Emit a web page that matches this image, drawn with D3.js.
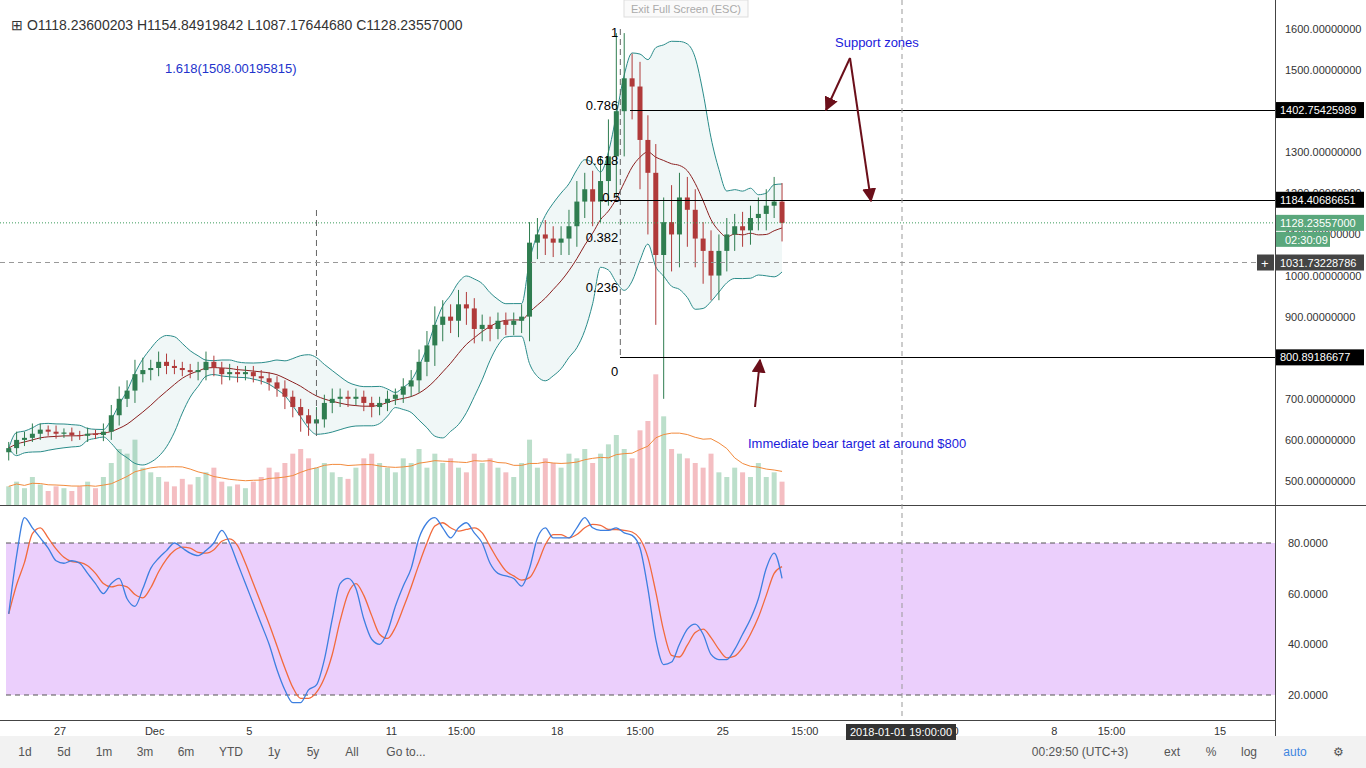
<!DOCTYPE html><html><head><meta charset="utf-8">
<script src="https://cdn.jsdelivr.net/npm/d3@7"></script>
<style>body{margin:0;background:#fff;font-family:Arial,"Liberation Sans",sans-serif}</style></head><body>
<svg id="c" width="1366" height="768"></svg>
<script>
const startDate = "2017-11-24T20:00";
const closes=[580,600,605,615,625,620,615,618,612,610,615,612,620,660,700,720,760,770,775,790,780,775,770,765,770,790,775,760,765,760,765,755,750,740,725,705,680,660,640,650,690,700,705,700,705,690,680,690,700,710,730,745,790,830,880,900,890,930,920,870,880,870,890,880,890,900,1080,1100,1090,1080,1090,1120,1180,1210,1180,1230,1290,1400,1480,1460,1330,1250,1050,1130,1100,1190,1160,1090,1060,1000,1060,1100,1120,1110,1140,1150,1170,1180,1128];
const wickUp=[15,20,15,25,15,10,15,10,12,10,15,10,20,25,30,25,35,30,20,25,20,15,15,15,20,25,15,15,20,15,15,15,15,15,15,20,15,20,15,30,20,25,20,15,20,15,15,15,20,15,20,25,30,35,45,40,30,35,30,25,25,20,20,20,20,30,50,40,35,30,30,40,50,40,45,60,90,190,110,60,60,60,70,60,90,60,50,50,40,50,40,40,30,35,30,40,40,60,45];
const wickDn=[20,15,15,10,15,10,12,10,15,10,15,10,15,20,25,20,30,20,25,20,20,15,15,15,20,25,20,25,15,20,15,15,15,20,20,30,25,40,30,25,20,25,20,20,15,20,25,20,20,15,20,25,30,35,50,40,30,40,40,35,30,30,25,25,25,30,60,40,40,35,30,40,50,40,60,50,60,100,110,80,120,150,170,350,90,80,90,70,80,60,60,50,40,40,35,30,40,30,45];
const volumes=[20,25,18,30,22,15,20,18,15,20,25,18,30,45,60,55,70,40,35,30,25,20,28,22,30,35,40,25,20,22,18,25,30,40,35,45,55,60,50,40,45,35,30,28,40,50,55,45,40,35,50,45,60,40,55,45,50,40,35,55,45,50,40,35,30,45,70,40,50,45,40,55,50,60,45,55,65,75,60,50,80,90,140,95,60,55,50,45,40,55,35,30,40,35,30,45,30,35,25];
const stochK=[52,75,90,86,82,78,73,72,73,72,68,64,60,64,66,58,55,62,70,74,77,80,78,76,75,77,80,85,80,72,64,56,48,40,30,22,17,17,22,24,34,50,64,66,62,50,42,40,45,55,63,70,82,88,90,86,82,86,88,84,80,72,68,67,66,63,70,82,86,82,82,82,86,90,86,85,85,86,84,83,78,62,42,32,33,40,46,48,44,36,34,34,38,44,50,58,70,76,66];
const priceTicks=[500,600,700,900,1000,1100,1200,1300,1500,1600];
const stochTicks=[20,40,60,80];
const xTicks=[["2017-11-27T00:00","27"],["2017-12-01T00:00","Dec"],["2017-12-05T00:00","5"],["2017-12-11T00:00","11"],["2017-12-13T23:00","15:00"],["2017-12-18T00:00","18"],["2017-12-21T12:00","15:00"],["2017-12-25T00:00","25"],["2017-12-28T11:00","15:00"],["2018-01-03T09:00","15:00"],["2018-01-08T00:00","8"],["2018-01-10T10:00","15:00"],["2018-01-15T00:00","15"]];
const fibLevels=[["1",1600],["0.786",1402.75],["0.618",1268],["0.5",1178],["0.382",1081],["0.236",960],["0",800.89]];
const priceLabels=[[1402.75425989,"1402.75425989","#000"],[1184.40686651,"1184.40686651","#000"],[1128.23557,"1128.23557000","#5aa77c"],[1031.73228786,"1031.73228786","#444"],[800.89186677,"800.89186677","#000"]];

const svg=d3.select("#c");
const W=1275;
const x=d3.scaleTime().domain([new Date("2017-11-27T00:00"),new Date("2018-01-15T00:00")]).range([60,1220]);
const y=d3.scaleLinear().domain([500,1600]).range([481,29]);
const ys=d3.scaleLinear().domain([20,80]).range([695,543]);
const t0=new Date(startDate).getTime();
const dt=i=>new Date(t0+i*8*3600e3);
const data=closes.map((c,i)=>{const o=i?closes[i-1]:c-10;return{i,o,c,h:Math.max(o,c)+wickUp[i],l:Math.min(o,c)-wickDn[i],v:volumes[i],d:dt(i)}});
svg.append("rect").attr("x",0).attr("y",0).attr("width",1366).attr("height",768).attr("fill","#fff");
svg.append("rect").attr("x",0).attr("y",736).attr("width",1366).attr("height",32).attr("fill","#f2f2f2");
svg.append("line").attr("x1",0).attr("x2",1366).attr("y1",505.5).attr("y2",505.5).attr("stroke","#444");
svg.append("line").attr("x1",1275.5).attr("x2",1275.5).attr("y1",0).attr("y2",736).attr("stroke","#444");
svg.append("line").attr("x1",0).attr("x2",1275).attr("y1",720.5).attr("y2",720.5).attr("stroke","#444");
svg.append("rect").attr("x",6).attr("y",ys(80)).attr("width",W-6).attr("height",ys(20)-ys(80)).attr("fill","#ebcffc");
[80,20].forEach(v=>svg.append("line").attr("x1",6).attr("x2",W).attr("y1",ys(v)).attr("y2",ys(v)).attr("stroke","#555").attr("stroke-dasharray","5,4"));
const yv=d3.scaleLinear().domain([0,150]).range([505,365]);
const cw=5;
svg.append("g").selectAll("rect").data(data).join("rect").attr("x",d=>x(d.d)-cw/2).attr("width",cw).attr("y",d=>yv(d.v)).attr("height",d=>505-yv(d.v))
 .attr("fill",d=>d.c>=d.o?"rgba(107,185,140,0.45)":"rgba(230,110,120,0.45)");
const vma=data.map((d,i)=>({d:d.d,v:d3.mean(volumes.slice(Math.max(0,i-9),i+1))}));
svg.append("path").datum(vma).attr("fill","none").attr("stroke","#f28a3c").attr("d",d3.line().x(d=>x(d.d)).y(d=>yv(d.v)));
const N=10;
const bb=data.map((d,i)=>{const s=closes.slice(Math.max(0,i-N+1),i+1);const m=d3.mean(s),sd=d3.deviation(s)||0;return{d:d.d,m,u:m+2*sd,lo:m-2*sd}});
svg.append("path").datum(bb).attr("fill","rgba(40,140,140,0.07)").attr("d",d3.area().x(d=>x(d.d)).y0(d=>y(d.lo)).y1(d=>y(d.u)).curve(d3.curveMonotoneX));
["u","lo"].forEach(k=>svg.append("path").datum(bb).attr("fill","none").attr("stroke","#2a8c8a").attr("d",d3.line().x(d=>x(d.d)).y(d=>y(d[k])).curve(d3.curveMonotoneX)));
svg.append("path").datum(bb).attr("fill","none").attr("stroke","#8b2020").attr("d",d3.line().x(d=>x(d.d)).y(d=>y(d.m)).curve(d3.curveMonotoneX));
const cg=svg.append("g");
data.forEach(d=>{const col=d.c>=d.o?"#2f7d50":"#b03a3a";const X=x(d.d);
 cg.append("line").attr("x1",X).attr("x2",X).attr("y1",y(d.h)).attr("y2",y(d.l)).attr("stroke",col);
 cg.append("rect").attr("x",X-2.5).attr("width",5).attr("y",y(Math.max(d.o,d.c))).attr("height",Math.max(1,Math.abs(y(d.o)-y(d.c)))).attr("fill",col);});
const fx=x(dt(77))+4;
svg.append("line").attr("x1",fx).attr("x2",fx).attr("y1",y(1600)).attr("y2",y(800.89)).attr("stroke","#666").attr("stroke-dasharray","6,4");
fibLevels.forEach(([l,v])=>svg.append("text").attr("x",l==="0.5"?fx+0:fx-2).attr("y",l==="1"?y(v)+8:l==="0"?y(v)+19:y(v)).attr("text-anchor","end").attr("font-size",13).text(l));
svg.append("line").attr("x1",x(dt(39))).attr("x2",x(dt(39))).attr("y1",210).attr("y2",440).attr("stroke","#666").attr("stroke-dasharray","6,4");
[[1402.75,630],[1184.4,600],[800.89,620]].forEach(([v,x1])=>svg.append("line").attr("x1",x1).attr("x2",W).attr("y1",Math.round(y(v))+.5).attr("y2",Math.round(y(v))+.5).attr("stroke","#000"));
svg.append("line").attr("x1",0).attr("x2",W).attr("y1",y(1128.24)).attr("y2",y(1128.24)).attr("stroke","#3a9a5a").attr("stroke-dasharray","1,2");
svg.append("line").attr("x1",0).attr("x2",W).attr("y1",y(1031.73)).attr("y2",y(1031.73)).attr("stroke","#999").attr("stroke-dasharray","5,4");
svg.append("line").attr("x1",902).attr("x2",902).attr("y1",0).attr("y2",720).attr("stroke","#999").attr("stroke-dasharray","5,4");
const D=stochK.map((k,i)=>d3.mean(stochK.slice(Math.max(0,i-2),i+1)));
svg.append("path").datum(D).attr("fill","none").attr("stroke","#f26a3c").attr("stroke-width",1.3).attr("d",d3.line().x((d,i)=>x(dt(i))).y(d=>ys(d)).curve(d3.curveMonotoneX));
svg.append("path").datum(stochK).attr("fill","none").attr("stroke","#3d7fe0").attr("stroke-width",1.3).attr("d",d3.line().x((d,i)=>x(dt(i))).y(d=>ys(d)).curve(d3.curveMonotoneX));
priceTicks.forEach(p=>svg.append("text").attr("x",1285).attr("y",y(p)+4).attr("font-size",11).attr("fill","#333").text(p.toFixed(8)));
stochTicks.forEach(p=>svg.append("text").attr("x",1288).attr("y",ys(p)+4).attr("font-size",11).attr("fill","#333").text(p.toFixed(4)));
priceLabels.forEach(([v,t,c])=>{const g=svg.append("g");g.append("rect").attr("x",1276).attr("y",y(v)-8).attr("width",88).attr("height",16).attr("fill",c);g.append("text").attr("x",1280).attr("y",y(v)+4).attr("font-size",11).attr("fill","#fff").text(t);});
svg.append("rect").attr("x",1276).attr("y",y(1128.24)+9).attr("width",54).attr("height",15).attr("fill","#5aa77c");
svg.append("text").attr("x",1285).attr("y",y(1128.24)+21).attr("font-size",11).attr("fill","#fff").text("02:30:09");
svg.append("rect").attr("x",1257).attr("y",y(1031.73)-8).attr("width",17).attr("height",16).attr("fill","#444");
svg.append("text").attr("x",1261).attr("y",y(1031.73)+5).attr("font-size",13).attr("fill","#fff").text("+");
xTicks.forEach(([d,l])=>svg.append("text").attr("x",x(new Date(d))).attr("y",735).attr("text-anchor","middle").attr("font-size",11).attr("fill","#333").text(l));
svg.append("rect").attr("x",846).attr("y",724).attr("width",110).attr("height",16).attr("fill","#333");
svg.append("text").attr("x",901).attr("y",736).attr("text-anchor","middle").attr("font-size",11).attr("fill","#fff").text("2018-01-01 19:00:00");
svg.append("text").attr("x",11).attr("y",30).attr("font-size",14).attr("fill","#333").text("⊞ O1118.23600203   H1154.84919842   L1087.17644680   C1128.23557000");
svg.append("text").attr("x",165).attr("y",73).attr("font-size",13).attr("fill","#2233cc").text("1.618(1508.00195815)");
svg.append("text").attr("x",835).attr("y",47).attr("font-size",13).attr("fill","#1a1adb").text("Support zones");
svg.append("text").attr("x",748).attr("y",448).attr("font-size",13).attr("fill","#1a1adb").text("Immediate bear target at around $800");
svg.append("rect").attr("x",624).attr("y",0).attr("width",124).attr("height",17).attr("fill","#fafafa").attr("stroke","#ddd");
svg.append("text").attr("x",686).attr("y",13).attr("text-anchor","middle").attr("font-size",11).attr("fill","#aaa").text("Exit Full Screen (ESC)");
const defs=svg.append("defs");
defs.append("marker").attr("id","ah").attr("viewBox","0 0 10 10").attr("refX",9).attr("refY",5).attr("markerWidth",7).attr("markerHeight",7).attr("orient","auto").append("path").attr("d","M0,0L10,5L0,10z").attr("fill","#6b0f1a");
[[850,58,826,110],[850,58,871,201],[755,407,760,360]].forEach(([a,b,c,d])=>svg.append("line").attr("x1",a).attr("y1",b).attr("x2",c).attr("y2",d).attr("stroke","#6b0f1a").attr("stroke-width",2).attr("marker-end","url(#ah)"));
const tb=[["1d",25],["5d",64],["1m",104],["3m",145],["6m",186],["YTD",231],["1y",274],["5y",313],["All",352],["Go to...",406]];
tb.forEach(([t,xx])=>svg.append("text").attr("x",xx).attr("y",756).attr("text-anchor","middle").attr("font-size",12).attr("fill","#555").text(t));
[["00:29:50 (UTC+3)",1080],["ext",1172],["%",1211],["log",1249],["auto",1295],["⚙",1338]].forEach(([t,xx])=>svg.append("text").attr("x",xx).attr("y",756).attr("text-anchor","middle").attr("font-size",12).attr("fill",t==="auto"?"#3d85e0":"#555").text(t));
</script></body></html>
